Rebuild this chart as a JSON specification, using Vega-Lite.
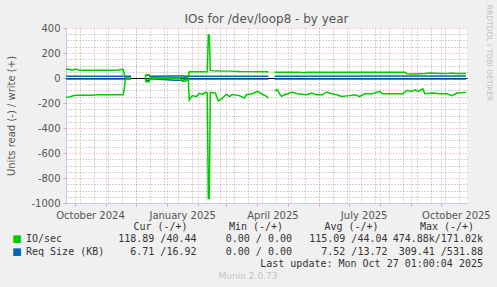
{
  "$schema": "https://vega.github.io/schema/vega-lite/v6.json",
  "width": 401,
  "height": 175,
  "autosize": {"type": "none"},
  "padding": {"left": 66, "top": 28, "right": 30, "bottom": 84},
  "background": "#f0f0f0",
  "title": {"text": "IOs for /dev/loop8 - by year", "font": "DejaVu Sans", "fontSize": 12, "fontWeight": "normal", "color": "#555555", "offset": -21},
  "config": {
    "view": {"fill": "#ffffff", "stroke": null},
    "axis": {"labelFont": "DejaVu Sans", "titleFont": "DejaVu Sans", "labelColor": "#555555", "titleColor": "#555555", "labelFontSize": 10, "titleFontSize": 10, "titleFontWeight": "normal"}
  },
  "datasets": {
    "series": [
      {"k": "rqw1", "m": "Req Size (KB)", "d": "2024-09-22", "v": 14},
      {"k": "rqw1", "m": "Req Size (KB)", "d": "2024-11-26", "v": 14},
      {"k": "rqr1", "m": "Req Size (KB)", "d": "2024-09-22", "v": -7},
      {"k": "rqr1", "m": "Req Size (KB)", "d": "2024-11-26", "v": -7},
      {"k": "rqw2", "m": "Req Size (KB)", "d": "2024-12-10", "v": 14},
      {"k": "rqw2", "m": "Req Size (KB)", "d": "2024-12-11", "v": 22},
      {"k": "rqw2", "m": "Req Size (KB)", "d": "2024-12-14", "v": 22},
      {"k": "rqw2", "m": "Req Size (KB)", "d": "2024-12-15", "v": 14},
      {"k": "rqw2", "m": "Req Size (KB)", "d": "2025-01-09", "v": 16},
      {"k": "rqw2", "m": "Req Size (KB)", "d": "2025-01-17", "v": 16},
      {"k": "rqw2", "m": "Req Size (KB)", "d": "2025-01-19", "v": 14},
      {"k": "rqw2", "m": "Req Size (KB)", "d": "2025-04-12", "v": 14},
      {"k": "rqr2", "m": "Req Size (KB)", "d": "2024-12-10", "v": -7},
      {"k": "rqr2", "m": "Req Size (KB)", "d": "2024-12-11", "v": -18},
      {"k": "rqr2", "m": "Req Size (KB)", "d": "2024-12-14", "v": -18},
      {"k": "rqr2", "m": "Req Size (KB)", "d": "2024-12-15", "v": -7},
      {"k": "rqr2", "m": "Req Size (KB)", "d": "2025-01-09", "v": -18},
      {"k": "rqr2", "m": "Req Size (KB)", "d": "2025-01-17", "v": -18},
      {"k": "rqr2", "m": "Req Size (KB)", "d": "2025-01-19", "v": -7},
      {"k": "rqr2", "m": "Req Size (KB)", "d": "2025-04-12", "v": -7},
      {"k": "rqw3", "m": "Req Size (KB)", "d": "2025-04-18", "v": 15},
      {"k": "rqw3", "m": "Req Size (KB)", "d": "2025-10-26", "v": 17},
      {"k": "rqr3", "m": "Req Size (KB)", "d": "2025-04-18", "v": -7},
      {"k": "rqr3", "m": "Req Size (KB)", "d": "2025-10-26", "v": -7},

      {"k": "iow1", "m": "IO/sec", "d": "2024-09-22", "v": 70},
      {"k": "iow1", "m": "IO/sec", "d": "2024-09-26", "v": 70},
      {"k": "iow1", "m": "IO/sec", "d": "2024-09-27", "v": 65},
      {"k": "iow1", "m": "IO/sec", "d": "2024-09-29", "v": 65},
      {"k": "iow1", "m": "IO/sec", "d": "2024-10-01", "v": 70},
      {"k": "iow1", "m": "IO/sec", "d": "2024-10-03", "v": 70},
      {"k": "iow1", "m": "IO/sec", "d": "2024-10-05", "v": 63},
      {"k": "iow1", "m": "IO/sec", "d": "2024-11-13", "v": 63},
      {"k": "iow1", "m": "IO/sec", "d": "2024-11-15", "v": 68},
      {"k": "iow1", "m": "IO/sec", "d": "2024-11-18", "v": 68},
      {"k": "iow1", "m": "IO/sec", "d": "2024-11-19", "v": 40},
      {"k": "iow1", "m": "IO/sec", "d": "2024-11-20", "v": 5},
      {"k": "iow1", "m": "IO/sec", "d": "2024-11-22", "v": 2},
      {"k": "iow1", "m": "IO/sec", "d": "2024-11-26", "v": 0},

      {"k": "ior1", "m": "IO/sec", "d": "2024-09-22", "v": -155},
      {"k": "ior1", "m": "IO/sec", "d": "2024-09-26", "v": -150},
      {"k": "ior1", "m": "IO/sec", "d": "2024-09-30", "v": -140},
      {"k": "ior1", "m": "IO/sec", "d": "2024-10-03", "v": -138},
      {"k": "ior1", "m": "IO/sec", "d": "2024-10-20", "v": -138},
      {"k": "ior1", "m": "IO/sec", "d": "2024-10-22", "v": -133},
      {"k": "ior1", "m": "IO/sec", "d": "2024-11-18", "v": -133},
      {"k": "ior1", "m": "IO/sec", "d": "2024-11-19", "v": -100},
      {"k": "ior1", "m": "IO/sec", "d": "2024-11-20", "v": -20},
      {"k": "ior1", "m": "IO/sec", "d": "2024-11-22", "v": -5},
      {"k": "ior1", "m": "IO/sec", "d": "2024-11-26", "v": 0},

      {"k": "iow2", "m": "IO/sec", "d": "2024-12-10", "v": 0},
      {"k": "iow2", "m": "IO/sec", "d": "2024-12-11", "v": 25},
      {"k": "iow2", "m": "IO/sec", "d": "2024-12-14", "v": 25},
      {"k": "iow2", "m": "IO/sec", "d": "2024-12-15", "v": 2},
      {"k": "iow2", "m": "IO/sec", "d": "2025-01-14", "v": 3},
      {"k": "iow2", "m": "IO/sec", "d": "2025-01-22", "v": 3},
      {"k": "iow2", "m": "IO/sec", "d": "2025-01-23", "v": 50},
      {"k": "iow2", "m": "IO/sec", "d": "2025-02-02", "v": 50},
      {"k": "iow2", "m": "IO/sec", "d": "2025-02-10", "v": 50},
      {"k": "iow2", "m": "IO/sec", "d": "2025-02-11", "v": 345},
      {"k": "iow2", "m": "IO/sec", "d": "2025-02-12", "v": 345},
      {"k": "iow2", "m": "IO/sec", "d": "2025-02-13", "v": 61},
      {"k": "iow2", "m": "IO/sec", "d": "2025-02-16", "v": 58},
      {"k": "iow2", "m": "IO/sec", "d": "2025-02-22", "v": 56},
      {"k": "iow2", "m": "IO/sec", "d": "2025-03-04", "v": 55},
      {"k": "iow2", "m": "IO/sec", "d": "2025-03-14", "v": 52},
      {"k": "iow2", "m": "IO/sec", "d": "2025-03-24", "v": 51},
      {"k": "iow2", "m": "IO/sec", "d": "2025-04-12", "v": 51},

      {"k": "ior2", "m": "IO/sec", "d": "2024-12-10", "v": 0},
      {"k": "ior2", "m": "IO/sec", "d": "2024-12-11", "v": -30},
      {"k": "ior2", "m": "IO/sec", "d": "2024-12-14", "v": -30},
      {"k": "ior2", "m": "IO/sec", "d": "2024-12-15", "v": -3},
      {"k": "ior2", "m": "IO/sec", "d": "2025-01-14", "v": -5},
      {"k": "ior2", "m": "IO/sec", "d": "2025-01-16", "v": -25},
      {"k": "ior2", "m": "IO/sec", "d": "2025-01-19", "v": -25},
      {"k": "ior2", "m": "IO/sec", "d": "2025-01-22", "v": -10},
      {"k": "ior2", "m": "IO/sec", "d": "2025-01-23", "v": -176},
      {"k": "ior2", "m": "IO/sec", "d": "2025-01-26", "v": -141},
      {"k": "ior2", "m": "IO/sec", "d": "2025-01-30", "v": -149},
      {"k": "ior2", "m": "IO/sec", "d": "2025-02-02", "v": -123},
      {"k": "ior2", "m": "IO/sec", "d": "2025-02-05", "v": -131},
      {"k": "ior2", "m": "IO/sec", "d": "2025-02-08", "v": -115},
      {"k": "ior2", "m": "IO/sec", "d": "2025-02-10", "v": -118},
      {"k": "ior2", "m": "IO/sec", "d": "2025-02-11", "v": -963},
      {"k": "ior2", "m": "IO/sec", "d": "2025-02-12", "v": -963},
      {"k": "ior2", "m": "IO/sec", "d": "2025-02-13", "v": -115},
      {"k": "ior2", "m": "IO/sec", "d": "2025-02-18", "v": -120},
      {"k": "ior2", "m": "IO/sec", "d": "2025-02-21", "v": -184},
      {"k": "ior2", "m": "IO/sec", "d": "2025-02-24", "v": -170},
      {"k": "ior2", "m": "IO/sec", "d": "2025-03-01", "v": -130},
      {"k": "ior2", "m": "IO/sec", "d": "2025-03-04", "v": -149},
      {"k": "ior2", "m": "IO/sec", "d": "2025-03-07", "v": -133},
      {"k": "ior2", "m": "IO/sec", "d": "2025-03-14", "v": -141},
      {"k": "ior2", "m": "IO/sec", "d": "2025-03-19", "v": -160},
      {"k": "ior2", "m": "IO/sec", "d": "2025-03-21", "v": -134},
      {"k": "ior2", "m": "IO/sec", "d": "2025-03-27", "v": -126},
      {"k": "ior2", "m": "IO/sec", "d": "2025-04-01", "v": -107},
      {"k": "ior2", "m": "IO/sec", "d": "2025-04-05", "v": -126},
      {"k": "ior2", "m": "IO/sec", "d": "2025-04-10", "v": -147},
      {"k": "ior2", "m": "IO/sec", "d": "2025-04-12", "v": -160},

      {"k": "iow3", "m": "IO/sec", "d": "2025-04-18", "v": 47},
      {"k": "iow3", "m": "IO/sec", "d": "2025-05-13", "v": 47},
      {"k": "iow3", "m": "IO/sec", "d": "2025-05-18", "v": 43},
      {"k": "iow3", "m": "IO/sec", "d": "2025-05-20", "v": 47},
      {"k": "iow3", "m": "IO/sec", "d": "2025-08-26", "v": 47},
      {"k": "iow3", "m": "IO/sec", "d": "2025-08-28", "v": 34},
      {"k": "iow3", "m": "IO/sec", "d": "2025-09-05", "v": 33},
      {"k": "iow3", "m": "IO/sec", "d": "2025-09-15", "v": 36},
      {"k": "iow3", "m": "IO/sec", "d": "2025-09-20", "v": 40},
      {"k": "iow3", "m": "IO/sec", "d": "2025-09-30", "v": 37},
      {"k": "iow3", "m": "IO/sec", "d": "2025-10-10", "v": 38},
      {"k": "iow3", "m": "IO/sec", "d": "2025-10-12", "v": 40},
      {"k": "iow3", "m": "IO/sec", "d": "2025-10-15", "v": 37},
      {"k": "iow3", "m": "IO/sec", "d": "2025-10-26", "v": 37},

      {"k": "ior3", "m": "IO/sec", "d": "2025-04-18", "v": -102},
      {"k": "ior3", "m": "IO/sec", "d": "2025-04-21", "v": -94},
      {"k": "ior3", "m": "IO/sec", "d": "2025-04-23", "v": -126},
      {"k": "ior3", "m": "IO/sec", "d": "2025-04-25", "v": -147},
      {"k": "ior3", "m": "IO/sec", "d": "2025-04-28", "v": -134},
      {"k": "ior3", "m": "IO/sec", "d": "2025-05-06", "v": -115},
      {"k": "ior3", "m": "IO/sec", "d": "2025-05-11", "v": -126},
      {"k": "ior3", "m": "IO/sec", "d": "2025-05-20", "v": -134},
      {"k": "ior3", "m": "IO/sec", "d": "2025-05-25", "v": -120},
      {"k": "ior3", "m": "IO/sec", "d": "2025-05-30", "v": -134},
      {"k": "ior3", "m": "IO/sec", "d": "2025-06-05", "v": -134},
      {"k": "ior3", "m": "IO/sec", "d": "2025-06-09", "v": -112},
      {"k": "ior3", "m": "IO/sec", "d": "2025-06-14", "v": -126},
      {"k": "ior3", "m": "IO/sec", "d": "2025-06-19", "v": -134},
      {"k": "ior3", "m": "IO/sec", "d": "2025-06-24", "v": -147},
      {"k": "ior3", "m": "IO/sec", "d": "2025-07-02", "v": -141},
      {"k": "ior3", "m": "IO/sec", "d": "2025-07-07", "v": -134},
      {"k": "ior3", "m": "IO/sec", "d": "2025-07-12", "v": -147},
      {"k": "ior3", "m": "IO/sec", "d": "2025-07-17", "v": -126},
      {"k": "ior3", "m": "IO/sec", "d": "2025-07-25", "v": -126},
      {"k": "ior3", "m": "IO/sec", "d": "2025-08-01", "v": -107},
      {"k": "ior3", "m": "IO/sec", "d": "2025-08-04", "v": -126},
      {"k": "ior3", "m": "IO/sec", "d": "2025-08-14", "v": -126},
      {"k": "ior3", "m": "IO/sec", "d": "2025-08-24", "v": -126},
      {"k": "ior3", "m": "IO/sec", "d": "2025-08-28", "v": -99},
      {"k": "ior3", "m": "IO/sec", "d": "2025-09-02", "v": -107},
      {"k": "ior3", "m": "IO/sec", "d": "2025-09-05", "v": -94},
      {"k": "ior3", "m": "IO/sec", "d": "2025-09-08", "v": -107},
      {"k": "ior3", "m": "IO/sec", "d": "2025-09-13", "v": -86},
      {"k": "ior3", "m": "IO/sec", "d": "2025-09-15", "v": -126},
      {"k": "ior3", "m": "IO/sec", "d": "2025-09-23", "v": -120},
      {"k": "ior3", "m": "IO/sec", "d": "2025-09-30", "v": -126},
      {"k": "ior3", "m": "IO/sec", "d": "2025-10-07", "v": -126},
      {"k": "ior3", "m": "IO/sec", "d": "2025-10-12", "v": -141},
      {"k": "ior3", "m": "IO/sec", "d": "2025-10-17", "v": -120},
      {"k": "ior3", "m": "IO/sec", "d": "2025-10-26", "v": -115}
    ],
    "legend": [
      {"r": "header", "c": "Cur", "t": "Cur (-/+)", "kind": "h"},
      {"r": "header", "c": "Min", "t": "Min (-/+)", "kind": "h"},
      {"r": "header", "c": "Avg", "t": "Avg (-/+)", "kind": "h"},
      {"r": "header", "c": "Max", "t": "Max (-/+)", "kind": "h"},
      {"r": "io", "c": "Name", "t": "IO/sec", "kind": "n", "m": "IO/sec"},
      {"r": "req", "c": "Name", "t": "Req Size (KB)", "kind": "n", "m": "Req Size (KB)"},
      {"r": "io", "c": "Cur", "t": "118.89 /40.44", "kind": "v"},
      {"r": "io", "c": "Min", "t": "0.00 / 0.00", "kind": "v"},
      {"r": "io", "c": "Avg", "t": "115.09 /44.04", "kind": "v"},
      {"r": "io", "c": "Max", "t": "474.88k/171.02k", "kind": "v"},
      {"r": "req", "c": "Cur", "t": "6.71 /16.92", "kind": "v"},
      {"r": "req", "c": "Min", "t": "0.00 / 0.00", "kind": "v"},
      {"r": "req", "c": "Avg", "t": "7.52 /13.72", "kind": "v"},
      {"r": "req", "c": "Max", "t": "309.41 /531.88\u00a0", "kind": "v"},
      {"r": "update", "c": "Max", "t": "Last update: Mon Oct 27 01:00:04 2025", "kind": "v"},
      {"r": "munin", "c": "Min", "t": "Munin 2.0.73", "kind": "f"}
    ]
  },
  "resolve": {"scale": {"x": "independent", "y": "independent"}},
  "layer": [
    {
      "data": {"name": "series"},
      "mark": {"type": "point", "opacity": 0},
      "encoding": {
        "x": {
          "field": "d", "type": "temporal",
          "scale": {"domain": [{"year": 2024, "month": 9, "date": 22, "hours": 1, "utc": true}, {"year": 2025, "month": 10, "date": 27, "hours": 1, "utc": true}], "nice": false},
          "axis": {
            "orient": "top", "title": null, "labels": false, "ticks": false, "domain": false,
            "grid": true, "gridColor": "#a8a8a8", "gridDash": [1, 2], "gridOpacity": 1,
            "values": [
              {"year": 2024, "month": 10, "date": 6, "utc": true}, {"year": 2024, "month": 10, "date": 20, "utc": true},
              {"year": 2024, "month": 11, "date": 3, "utc": true}, {"year": 2024, "month": 11, "date": 17, "utc": true},
              {"year": 2024, "month": 12, "date": 1, "utc": true}, {"year": 2024, "month": 12, "date": 15, "utc": true},
              {"year": 2024, "month": 12, "date": 29, "utc": true}, {"year": 2025, "month": 1, "date": 12, "utc": true},
              {"year": 2025, "month": 1, "date": 26, "utc": true}, {"year": 2025, "month": 2, "date": 9, "utc": true},
              {"year": 2025, "month": 2, "date": 23, "utc": true}, {"year": 2025, "month": 3, "date": 9, "utc": true},
              {"year": 2025, "month": 3, "date": 23, "utc": true}, {"year": 2025, "month": 4, "date": 6, "utc": true},
              {"year": 2025, "month": 4, "date": 20, "utc": true}, {"year": 2025, "month": 5, "date": 4, "utc": true},
              {"year": 2025, "month": 5, "date": 18, "utc": true}, {"year": 2025, "month": 6, "date": 1, "utc": true},
              {"year": 2025, "month": 6, "date": 15, "utc": true}, {"year": 2025, "month": 6, "date": 29, "utc": true},
              {"year": 2025, "month": 7, "date": 13, "utc": true}, {"year": 2025, "month": 7, "date": 27, "utc": true},
              {"year": 2025, "month": 8, "date": 10, "utc": true}, {"year": 2025, "month": 8, "date": 24, "utc": true},
              {"year": 2025, "month": 9, "date": 7, "utc": true}, {"year": 2025, "month": 9, "date": 21, "utc": true},
              {"year": 2025, "month": 10, "date": 5, "utc": true}, {"year": 2025, "month": 10, "date": 19, "utc": true}
            ]
          }
        },
        "y": {
          "field": "v", "type": "quantitative",
          "scale": {"domain": [-1000, 400], "nice": false, "zero": false},
          "axis": {
            "orient": "right", "labels": false, "ticks": false, "domain": false, "title": null,
            "grid": true, "gridColor": "#a8a8a8", "gridDash": [1, 2], "gridOpacity": 1,
            "values": [-950, -900, -850, -750, -700, -650, -550, -500, -450, -350, -300, -250, -150, -100, -50, 50, 100, 150, 250, 300, 350]
          }
        }
      }
    },
    {
      "data": {"values": [{}]},
      "mark": {"type": "text", "text": "RRDTOOL / TOBI OETIKER", "angle": 90, "dy": -22, "font": "DejaVu Sans", "fontSize": 7.5, "color": "#c0c0c0", "align": "center", "baseline": "middle"},
      "encoding": {
        "x": {"datum": {"year": 2025, "month": 10, "date": 27, "hours": 1, "utc": true}, "type": "temporal", "scale": {"domain": [{"year": 2024, "month": 9, "date": 22, "hours": 1, "utc": true}, {"year": 2025, "month": 10, "date": 27, "hours": 1, "utc": true}], "nice": false}, "axis": null},
        "y": {"datum": 200, "scale": {"domain": [-1000, 400], "nice": false, "zero": false}, "axis": null}
      }
    },
    {
      "data": {"name": "series"},
      "mark": {"type": "line", "strokeWidth": 1.5},
      "encoding": {
        "x": {
          "field": "d", "type": "temporal",
          "scale": {"domain": [{"year": 2024, "month": 9, "date": 22, "hours": 1, "utc": true}, {"year": 2025, "month": 10, "date": 27, "hours": 1, "utc": true}], "nice": false},
          "axis": {
            "orient": "bottom", "title": null,
            "values": [
              {"year": 2024, "month": 10, "date": 1, "utc": true}, {"year": 2024, "month": 11, "date": 1, "utc": true},
              {"year": 2024, "month": 12, "date": 1, "utc": true}, {"year": 2025, "month": 1, "date": 1, "utc": true},
              {"year": 2025, "month": 2, "date": 1, "utc": true}, {"year": 2025, "month": 3, "date": 1, "utc": true},
              {"year": 2025, "month": 4, "date": 1, "utc": true}, {"year": 2025, "month": 5, "date": 1, "utc": true},
              {"year": 2025, "month": 6, "date": 1, "utc": true}, {"year": 2025, "month": 7, "date": 1, "utc": true},
              {"year": 2025, "month": 8, "date": 1, "utc": true}, {"year": 2025, "month": 9, "date": 1, "utc": true},
              {"year": 2025, "month": 10, "date": 1, "utc": true}
            ],
            "labelExpr": "indexof([0,3,6,9], utcmonth(datum.value)) >= 0 ? utcFormat(datum.value, '%B %Y') : ''",
            "labelOffset": 15, "labelAlign": "center", "labelPadding": 4, "labelFlush": false, "labelOverlap": false, "labelBound": false,
            "grid": true, "gridColor": "#f0a0a0", "gridDash": [1, 2], "gridOpacity": 1,
            "tickColor": "#f0a0a0", "tickSize": 3,
            "domainColor": "#c4cbf0", "domainWidth": 1
          }
        },
        "y": {
          "field": "v", "type": "quantitative",
          "scale": {"domain": [-1000, 400], "nice": false, "zero": false},
          "axis": {
            "orient": "left", "title": "Units read (-) / write (+)", "titlePadding": 14,
            "values": [-1000, -800, -600, -400, -200, 0, 200, 400],
            "labelExpr": "'' + datum.value", "labelOverlap": false, "labelFlush": false, "labelBound": false,
            "labelPadding": 3, "tickColor": "#f0a0a0", "tickSize": 3,
            "grid": true,
            "gridColor": {"condition": {"test": "datum.value === 0", "value": "#000000"}, "value": "#f0a0a0"},
            "gridDash": {"condition": {"test": "datum.value === 0", "value": []}, "value": [1, 2]},
            "gridWidth": {"condition": {"test": "datum.value === 0", "value": 1.2}, "value": 1},
            "gridOpacity": 1,
            "domainColor": "#c4cbf0", "domainWidth": 1
          }
        },
        "color": {"field": "m", "type": "nominal", "scale": {"domain": ["IO/sec", "Req Size (KB)"], "range": ["#00cc00", "#0066b3"]}, "legend": null},
        "detail": {"field": "k"}
      }
    },
    {
      "data": {"name": "legend"},
      "encoding": {
        "x": {"field": "c", "type": "nominal", "scale": {"type": "point", "domain": ["Name", "Cur", "Min", "Avg", "Max"], "range": [35, 417], "padding": 0}, "axis": null},
        "y": {"field": "r", "type": "nominal", "scale": {"type": "point", "domain": ["header", "io", "req", "update", "munin"], "range": [199, 248], "padding": 0}, "axis": null}
      },
      "layer": [
        {
          "transform": [{"filter": "datum.kind === 'n'"}],
          "mark": {"type": "text", "text": "\u25a0", "font": "DejaVu Sans", "fontSize": 10, "dx": -84, "align": "center", "baseline": "middle"},
          "encoding": {"color": {"field": "m", "type": "nominal", "scale": {"domain": ["IO/sec", "Req Size (KB)"], "range": ["#00cc00", "#0066b3"]}, "legend": null}}
        },
        {
          "transform": [{"filter": "datum.kind === 'n'"}],
          "mark": {"type": "text", "font": "DejaVu Sans Mono", "fontSize": 10, "dx": -75, "align": "left", "baseline": "middle", "color": "#333333"},
          "encoding": {"text": {"field": "t"}}
        },
        {
          "transform": [{"filter": "datum.kind === 'h'"}],
          "mark": {"type": "text", "font": "DejaVu Sans Mono", "fontSize": 10, "dx": -36, "align": "center", "baseline": "middle", "color": "#333333"},
          "encoding": {"text": {"field": "t"}}
        },
        {
          "transform": [{"filter": "datum.kind === 'v'"}],
          "mark": {"type": "text", "font": "DejaVu Sans Mono", "fontSize": 10, "align": "right", "baseline": "middle", "color": "#333333"},
          "encoding": {"text": {"field": "t"}}
        },
        {
          "transform": [{"filter": "datum.kind === 'f'"}],
          "mark": {"type": "text", "font": "DejaVu Sans", "fontSize": 9, "dx": -44, "align": "center", "baseline": "middle", "color": "#c4c4c4"},
          "encoding": {"text": {"field": "t"}}
        }
      ]
    }
  ]
}
